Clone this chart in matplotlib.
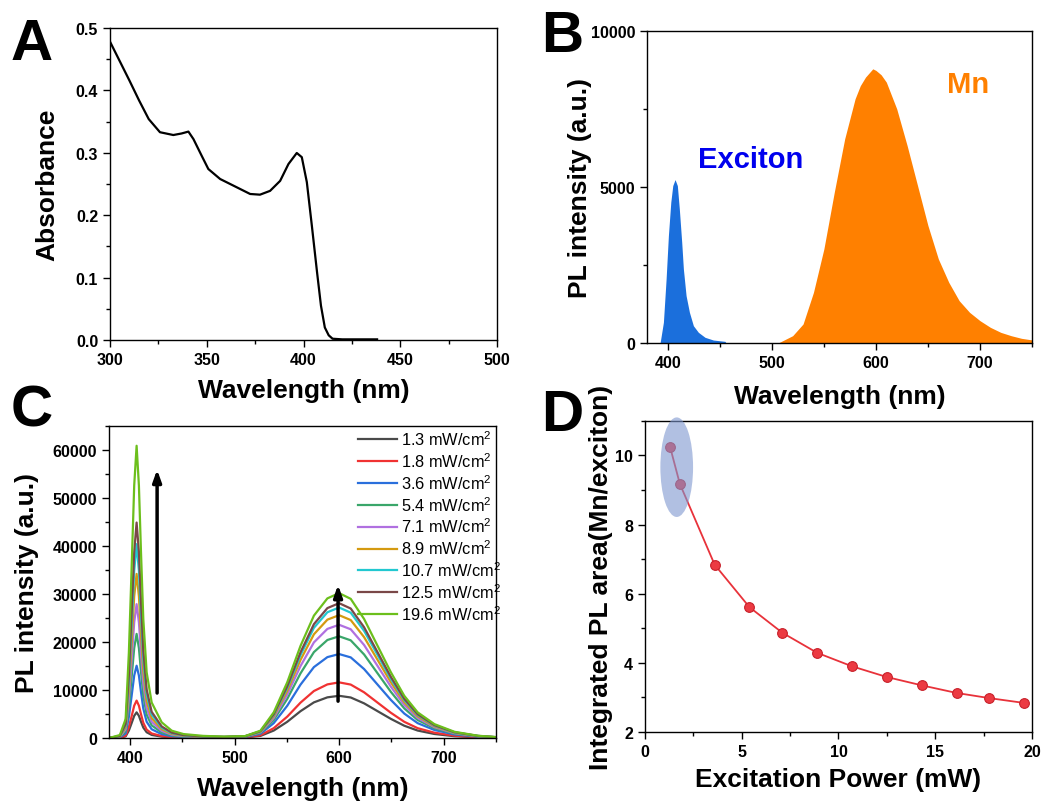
import matplotlib
matplotlib.use("Agg")
import matplotlib.pyplot as plt
import numpy as np
from matplotlib.patches import Ellipse
from matplotlib.ticker import MultipleLocator

plt.rcParams['font.family'] = ['Liberation Sans', 'DejaVu Sans']
plt.rcParams['font.weight'] = 'bold'
plt.rcParams['axes.labelweight'] = 'bold'
plt.rcParams['mathtext.default'] = 'regular'

# (A) absorbance spectrum
abs_wl = [300, 305, 310, 315, 320, 325.8, 332.7, 337, 340.5, 343.1, 347.4, 350.8, 356.9, 365.5,
          372.4, 377.5, 382.7, 387.9, 392.2, 396.5, 399.1, 401.7, 404.3, 407, 409, 411, 413,
          415, 420, 438]
abs_val = [0.478, 0.447, 0.416, 0.384, 0.354, 0.333, 0.3285, 0.331, 0.334, 0.322, 0.295, 0.274,
           0.258, 0.2447, 0.234, 0.2329, 0.239, 0.255, 0.282, 0.2997, 0.293, 0.253, 0.183,
           0.108, 0.055, 0.020, 0.0075, 0.002, 0.001, 0.001]

# (B) PL spectrum, exciton band and Mn band
exc_wl = [392.6, 395.8, 398.4, 400.6, 402.9, 404.8, 407, 409.2, 411.1, 413.4, 415, 417.6,
          420.8, 424.6, 429.4, 435.8, 443.8, 455, 456]
exc_int = [0, 664, 2053, 3443, 4514, 5047, 5240, 5047, 4300, 3230, 2374, 1518, 985, 555, 343,
           183, 96, 54, 0]
mn_wl = [506, 520, 530, 540, 550, 560, 570, 580, 585, 590, 597, 600, 605, 610, 620, 630, 640,
         650, 660, 670, 680, 690, 700, 710, 720, 730, 740, 750]
mn_int = [0, 235, 610, 1625, 3015, 4834, 6545, 7830, 8250, 8524, 8790, 8740, 8600, 8364, 7508,
          6330, 5048, 3765, 2695, 1947, 1358, 984, 717, 503, 342, 235, 150, 100]

# (C) power dependent PL: band profiles (19.6 mW/cm2 trace) and peak heights
c_wl = [380, 390.4, 395.9, 399, 401.6, 404.1, 406.4, 408.6, 410.6, 412.8, 416, 420.8, 430.4,
        440, 451.2, 470, 490, 510, 524.8, 537.5, 550.4, 563.1, 575.9, 588.8, 600, 611.1,
        623.9, 636.8, 649.5, 662.3, 675.1, 691.1, 710.3, 732.7, 750]
c_exc = [0, 625, 3960, 17800, 35200, 52600, 60900, 52600, 38700, 24800, 13700, 7400, 3270,
         1530, 830, 400, 150, 0, 0, 0, 0, 0, 0, 0, 0, 0, 0, 0, 0, 0, 0, 0, 0, 0, 0]
c_mn = [0, 0, 0, 0, 0, 0, 0, 0, 0, 0, 0, 0, 0, 0, 0, 50, 150, 400, 1530, 5350, 11600, 19200,
        25500, 29100, 30200, 29000, 24800, 19200, 13700, 8800, 5350, 2900, 1300, 480, 200]
powers = ['1.3', '1.8', '3.6', '5.4', '7.1', '8.9', '10.7', '12.5', '19.6']
exc_peak = [5350, 7800, 15070, 21700, 27900, 34200, 40400, 44900, 60900]
mn_peak = [8800, 11600, 17500, 21200, 23600, 25600, 27200, 28100, 30200]
c_colors = ['#4a4a4a', '#f03232', '#2a6fdc', '#3aa66a', '#b070e0', '#d49a10', '#22c8d0',
            '#7a4848', '#6cbf1c']

# (D) intensity ratio vs excitation power
d_power = [1.3, 1.8, 3.6, 5.4, 7.1, 8.9, 10.7, 12.5, 14.3, 16.1, 17.8, 19.6]
d_ratio = [10.24, 9.18, 6.84, 5.61, 4.87, 4.29, 3.90, 3.59, 3.35, 3.13, 2.98, 2.84]

fig = plt.figure(figsize=(10.44, 8.04), dpi=100)
axA = fig.add_axes([0.1054, 0.5759, 0.3707, 0.388])
axB = fig.add_axes([0.6197, 0.5721, 0.3688, 0.388])
axC = fig.add_axes([0.1044, 0.0808, 0.3707, 0.388])
axD = fig.add_axes([0.6178, 0.0883, 0.3707, 0.387])

for ax in (axA, axB, axC, axD):
    ax.tick_params(which='both', direction='out', top=False, right=False, labelsize=11.5, width=1)
    ax.tick_params(which='major', length=5)
    ax.tick_params(which='minor', length=3)
    for s in ax.spines.values():
        s.set_linewidth(1.0)

# A
axA.plot(abs_wl, abs_val, color='black', lw=1.6)
axA.set_xlim(300, 500)
axA.set_ylim(0, 0.5)
axA.xaxis.set_major_locator(MultipleLocator(50))
axA.xaxis.set_minor_locator(MultipleLocator(25))
axA.yaxis.set_minor_locator(MultipleLocator(0.05))
axA.set_yticks(np.arange(0, 0.51, 0.1), ['0.0', '0.1', '0.2', '0.3', '0.4', '0.5'])
axA.set_xlabel('Wavelength (nm)', fontsize=19, labelpad=8)
axA.set_ylabel('Absorbance', fontsize=19, labelpad=12)

# B
axB.fill_between(exc_wl, exc_int, color='#1b6fdc', lw=0)
axB.fill_between(mn_wl, mn_int, color='#ff8000', lw=0)
axB.set_xlim(380, 750)
axB.set_ylim(0, 10000)
axB.xaxis.set_major_locator(MultipleLocator(100))
axB.xaxis.set_minor_locator(MultipleLocator(50))
axB.yaxis.set_major_locator(MultipleLocator(5000))
axB.yaxis.set_minor_locator(MultipleLocator(2500))
axB.text(480, 5900, 'Exciton', color='#0000ee', fontsize=21, ha='center', va='center')
axB.text(689, 8290, 'Mn', color='#ff8000', fontsize=21, ha='center', va='center')
axB.set_xlabel('Wavelength (nm)', fontsize=19, labelpad=10)
axB.set_ylabel('PL intensity (a.u.)', fontsize=19, labelpad=-1)

# C: each spectrum = exciton band + Mn band scaled to its peak height
exc_shape = np.array(c_exc) / max(c_exc)
mn_shape = np.array(c_mn) / max(c_mn)
for p, a, b, col in zip(powers, exc_peak, mn_peak, c_colors):
    axC.plot(c_wl, a * exc_shape + b * mn_shape, color=col, lw=1.6, label=p + ' mW/cm$^2$')
axC.annotate('', xy=(426, 56500), xytext=(426, 8800),
             arrowprops=dict(arrowstyle='-|>,head_width=0.25,head_length=0.7', color='black', lw=2.5))
axC.annotate('', xy=(599, 32500), xytext=(599, 7100),
             arrowprops=dict(arrowstyle='-|>,head_width=0.25,head_length=0.7', color='black', lw=2.5))
axC.set_xlim(380, 750)
axC.set_ylim(0, 65000)
axC.xaxis.set_major_locator(MultipleLocator(100))
axC.xaxis.set_minor_locator(MultipleLocator(50))
axC.yaxis.set_major_locator(MultipleLocator(10000))
axC.yaxis.set_minor_locator(MultipleLocator(5000))
axC.legend(loc='upper right', bbox_to_anchor=(1.03, 1.01), frameon=False,
           prop={'weight': 'normal', 'size': 11.8}, handlelength=2.4, handletextpad=0.25,
           labelspacing=0.19, borderaxespad=0.0)
axC.set_xlabel('Wavelength (nm)', fontsize=19, labelpad=8)
axC.set_ylabel('PL intensity (a.u.)', fontsize=19, labelpad=10)

# D
axD.plot(d_power, d_ratio, color='#e8323a', lw=1.3, marker='o', markersize=7,
         markerfacecolor='#ec3a42', markeredgecolor='#c8202a', markeredgewidth=0.8)
axD.add_patch(Ellipse((1.64, 9.66), 1.69, 2.88, color='#7e97cf', alpha=0.6, lw=0, zorder=5,
                      clip_on=False))
axD.set_xlim(0, 20)
axD.set_ylim(2, 11)
axD.xaxis.set_major_locator(MultipleLocator(5))
axD.xaxis.set_minor_locator(MultipleLocator(2.5))
axD.yaxis.set_major_locator(MultipleLocator(2))
axD.yaxis.set_minor_locator(MultipleLocator(1))
axD.set_xlabel('Excitation Power (mW)', fontsize=19, labelpad=6)
axD.set_ylabel('Integrated PL area(Mn/exciton)', fontsize=19, labelpad=2)

for lbl, x, y in [('A', 0.010, 0.977), ('B', 0.518, 0.988), ('C', 0.010, 0.522), ('D', 0.518, 0.516)]:
    fig.text(x, y, lbl, fontsize=42, fontweight='bold', va='top', ha='left')

fig.savefig('out.png', dpi=100)
